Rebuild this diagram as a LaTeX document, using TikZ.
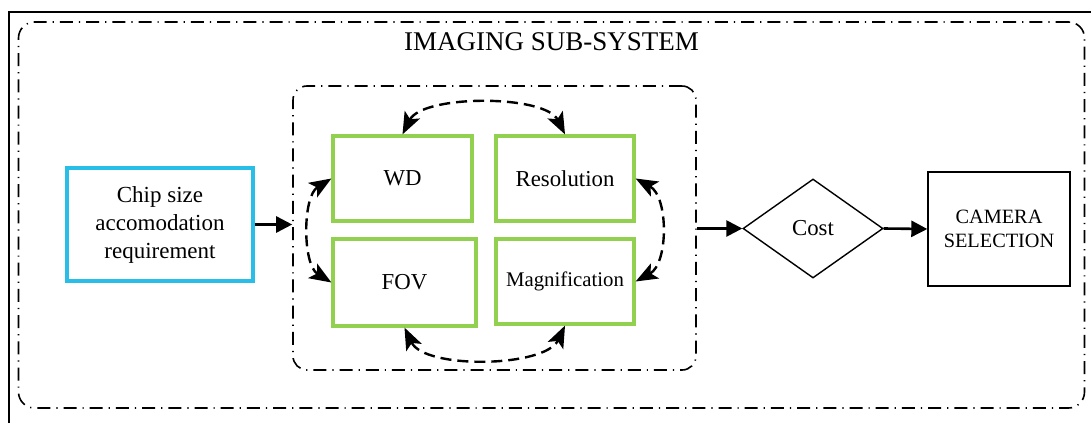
\documentclass[tikz,border=0pt]{standalone}
\usepackage{fontspec}
\setmainfont{Liberation Serif}
\usetikzlibrary{arrows.meta,shapes.geometric}
\definecolor{boxgreen}{RGB}{146,208,80}
\definecolor{boxcyan}{RGB}{40,190,232}
\tikzset{
  ddline/.style={line width=1.6pt,dash pattern=on 13pt off 6pt on 1.2pt off 6pt},
  groupbox/.style={draw,ddline,rounded corners=14pt,inner sep=0pt},
  paramnode/.style={draw=boxgreen,line width=3.2pt,inner sep=0pt,font=\fontsize{22.8}{28}\selectfont},
  inputnode/.style={draw=boxcyan,line width=3.2pt,inner sep=0pt,align=center,font=\fontsize{23}{28}\selectfont},
  decision/.style={draw,diamond,line width=1.4pt,inner sep=0pt,font=\fontsize{22.8}{28}\selectfont},
  outnode/.style={draw,line width=1.4pt,inner sep=0pt,align=center,font=\fontsize{20.3}{24.7}\selectfont},
  flow/.style={line width=2.6pt,>={Triangle[length=16pt,width=16pt]},->},
  link/.style={line width=2.4pt,dash pattern=on 11pt off 6pt,
    >={Stealth[length=22pt,width=17pt,inset=5pt]},<->},
}
\begin{document}
\begin{tikzpicture}[x=1pt,y=1pt]
\useasboundingbox (0,0) rectangle (1091,-423);
% page frame
\draw[line width=1.8pt] (9,-423) -- (9,-12) -- (1091,-12);
% sub-system groups
\node[groupbox,rounded corners=16pt,minimum width=1066pt,minimum height=386pt] (sys) at (551.5,-215) {};
\node[font=\fontsize{27}{30}\selectfont] (title) at (551.5,-42) {IMAGING SUB-SYSTEM};
\node[groupbox,minimum width=403pt,minimum height=284pt] (sub) at (494.5,-228) {};
% input
\node[inputnode,minimum width=186pt,minimum height=113pt] (chip) at (160,-224.5)
  {Chip size\\accomodation\\requirement};
% parameters
\node[paramnode,minimum width=139pt,minimum height=85pt] (wd) at (402.5,-178.5) {WD};
\node[paramnode,minimum width=138pt,minimum height=85pt] (res) at (565,-178.5) {Resolution};
\node[paramnode,minimum width=143pt,minimum height=87pt] (fov) at (404.5,-282.5) {FOV};
\node[paramnode,minimum width=138pt,minimum height=85pt,font=\fontsize{20.8}{25}\selectfont] (mag) at (565,-281.5) {Magnification};
% decision and output
\node[decision,minimum width=140pt,minimum height=99pt] (cost) at (813,-228.5) {Cost};
\node[outnode,minimum width=142pt,minimum height=114pt] (cam) at (999,-229) {CAMERA\\SELECTION};
% flow
\draw[flow] (chip.east) -- (chip.east -| sub.west);
\draw[flow] (sub.east |- cost.west) -- (cost.west);
\draw[flow] (cost.east) -- (cam.west);
% mutual dependencies
\draw[link] (wd.north) .. controls +(20,40) and +(-20,40) .. (res.north);
\draw[link] (fov.south) .. controls +(20,-42) and +(-20,-42) .. (mag.south);
\draw[link] (wd.west) .. controls +(-29,-18) and +(-29,18) .. (fov.west);
\draw[link] (res.east) .. controls +(33,-18) and +(33,18) .. (mag.east);
\end{tikzpicture}
\end{document}
